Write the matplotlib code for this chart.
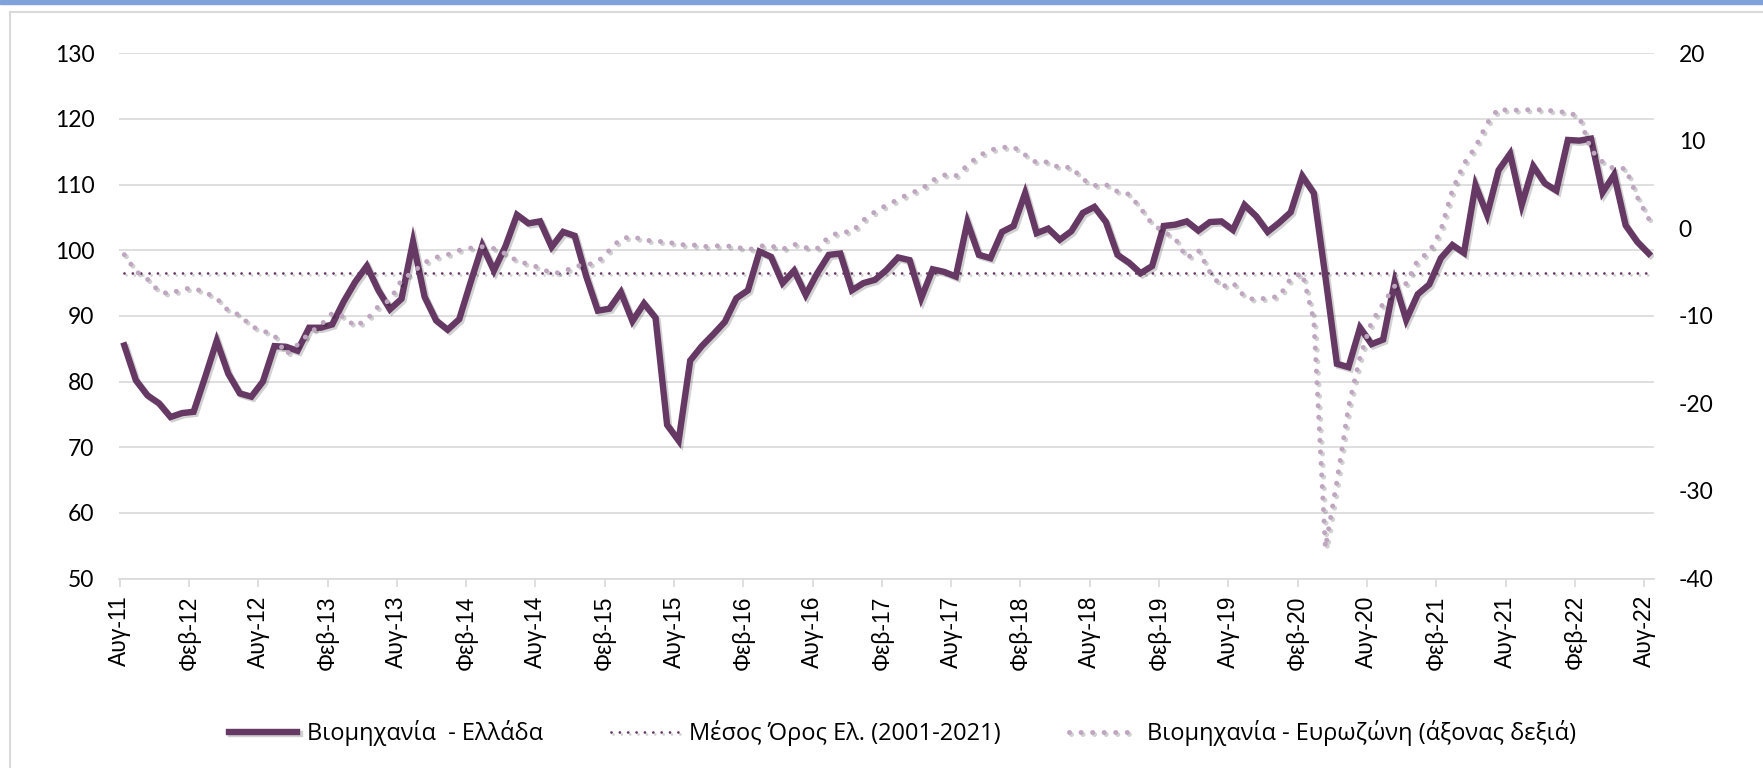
import matplotlib.pyplot as plt
import matplotlib.patheffects as pe
from matplotlib.lines import Line2D
from matplotlib.patches import Rectangle
import numpy as np

plt.rcParams['axes.unicode_minus'] = False

# monthly values, Aug-11 .. Aug-22
greece = [
    85.5, 80.2, 77.9, 76.7, 74.6, 75.2, 75.4, 80.7, 86.2, 81.2,
    78.2, 77.7, 80.0, 85.4, 85.3, 84.7, 88.2, 88.2, 88.7, 92.2,
    95.2, 97.6, 93.9, 91.0, 92.6, 101.3, 92.9, 89.3, 87.9, 89.5,
    95.2, 100.7, 96.9, 100.6, 105.4, 104.1, 104.4, 100.5, 102.8, 102.2,
    96.0, 90.8, 91.1, 93.6, 89.2, 91.9, 89.7, 73.4, 71.0, 83.2,
    85.4, 87.2, 89.1, 92.7, 93.9, 99.8, 99.0, 95.0, 96.9, 93.2,
    96.5, 99.3, 99.5, 93.9, 95.0, 95.5, 97.0, 98.9, 98.5, 92.7,
    97.1, 96.7, 96.0, 104.3, 99.3, 98.8, 102.8, 103.7, 108.7, 102.6,
    103.3, 101.6, 102.9, 105.7, 106.6, 104.3, 99.3, 98.1, 96.5, 97.6,
    103.7, 103.9, 104.4, 103.0, 104.3, 104.4, 103.1, 106.9, 105.2, 102.8,
    104.2, 105.8, 111.3, 108.7, 96.0, 82.7, 82.2, 88.2, 85.7, 86.4,
    95.2, 89.4, 93.3, 94.8, 98.8, 100.8, 99.6, 109.9, 105.4, 112.2,
    114.7, 106.9, 112.8, 110.2, 109.1, 116.8, 116.7, 117.0, 108.8, 111.5,
    103.8, 101.3, 99.5,
]

euro = [
    -3.0, -4.9, -5.8, -7.2, -7.5, -6.9, -6.85, -7.3, -8.0, -9.4,
    -9.9, -11.2, -11.7, -12.2, -14.4, -13.3, -12.0, -11.05, -9.7, -10.1,
    -11.2, -10.4, -8.9, -8.2, -5.9, -5.0, -3.9, -3.3, -3.0, -2.5,
    -2.25, -2.1, -2.3, -2.9, -3.7, -4.1, -4.5, -5.15, -5.0, -4.3,
    -4.2, -3.8, -2.5, -1.15, -0.96, -1.3, -1.5, -1.5, -1.9, -1.8,
    -2.1, -2.0, -2.0, -2.1, -2.5, -2.0, -2.0, -2.4, -1.8, -2.2,
    -2.3, -0.96, -0.4, -0.4, 0.95, 1.9, 2.66, 3.3, 4.0, 4.45,
    5.5, 6.1, 6.0, 7.2, 8.3, 8.95, 9.25, 9.3, 8.4, 7.5,
    7.6, 6.9, 7.0, 5.6, 4.9, 5.0, 4.2, 3.9, 2.3, 0.5,
    -0.4, -1.15, -3.4, -2.5, -5.0, -6.7, -6.2, -7.8, -8.2, -7.9,
    -7.8, -5.7, -5.1, -10.5, -36.5, -28.9, -20.4, -14.7, -10.7, -8.6,
    -6.6, -6.3, -3.6, -2.7, -0.2, 4.4, 7.4, 9.3, 12.0, 13.7,
    13.4, 13.6, 13.5, 13.6, 13.3, 13.3, 12.7, 8.95, 7.6, 6.8,
    6.85, 3.6, 1.1,
]

mean_gr = 96.6

tick_labels = ['Αυγ-11', 'Φεβ-12', 'Αυγ-12', 'Φεβ-13', 'Αυγ-13', 'Φεβ-14',
               'Αυγ-14', 'Φεβ-15', 'Αυγ-15', 'Φεβ-16', 'Αυγ-16', 'Φεβ-17',
               'Αυγ-17', 'Φεβ-18', 'Αυγ-18', 'Φεβ-19', 'Αυγ-19', 'Φεβ-20',
               'Αυγ-20', 'Φεβ-21', 'Αυγ-21', 'Φεβ-22', 'Αυγ-22']

labels = ['Βιομηχανία  - Ελλάδα', 'Μέσος Όρος Ελ. (2001-2021)',
          'Βιομηχανία - Ευρωζώνη (άξονας δεξιά)']

dark = '#653963'
light = '#BFA6C0'
grid = '#D9D9D9'
num_font = ['Lato', 'Open Sans', 'DejaVu Sans']
txt_font = ['Open Sans', 'DejaVu Sans']

x = np.arange(len(greece))
shadow = [pe.SimpleLineShadow(offset=(1.5, -1.5), shadow_color='k', alpha=0.18), pe.Normal()]

fig = plt.figure(figsize=(17.63, 7.68), dpi=100)
ax = fig.add_axes([0.0677, 0.2467, 0.8703, 0.6839])
ax2 = ax.twinx()

l1, = ax.plot(x, greece, color=dark, lw=4.6, solid_joinstyle='miter',
              path_effects=shadow, zorder=3)
l2, = ax.plot([x[0], x[-1]], [mean_gr, mean_gr], color=dark, lw=2.0,
              linestyle=(0, (0.01, 3.0)), dash_capstyle='round',
              path_effects=shadow, zorder=2)
l3, = ax2.plot(x, euro, color=light, lw=3.6, linestyle=(0, (0.01, 2.3)),
               dash_capstyle='round', path_effects=shadow, zorder=3)

ax.set_xlim(-0.43, 132.43)
ax.set_ylim(50, 130)
ax2.set_ylim(-40, 20)
ax.set_yticks(np.arange(50, 131, 10))
ax2.set_yticks(np.arange(-40, 21, 10))
ax.yaxis.grid(True, color=grid, lw=1.2)
ax.set_axisbelow(True)

for s in ['top', 'left', 'right']:
    ax.spines[s].set_visible(False)
for s in ax2.spines.values():
    s.set_visible(False)
ax.spines['bottom'].set_color(grid)
ax.spines['bottom'].set_linewidth(1.2)

ax.set_xticks(np.arange(0, len(greece), 6) - 0.4)
ax.set_xticklabels(tick_labels, rotation=90, family=['Liberation Sans', 'DejaVu Sans'],
                   fontsize=16.5)
ax.tick_params(axis='x', color=grid, width=1.2, length=6, pad=6)
ax.tick_params(axis='y', length=0, pad=18, labelsize=16.5)
ax2.tick_params(axis='y', length=0, pad=18, labelsize=16.5)
for t in ax.get_yticklabels() + ax2.get_yticklabels():
    t.set_family(num_font)

fig.legend([l1, l2, l3], labels, loc='center', bbox_to_anchor=(0.512, 0.0456),
           ncol=3, frameon=False, handlelength=2.9, handletextpad=0.4,
           columnspacing=2.9, prop={'family': txt_font, 'size': 17})

# frame around the chart
fig.patches.append(Rectangle((0, 1 - 4 / 768), 1, 4 / 768, transform=fig.transFigure,
                             color='#7FA2DC', zorder=0))
fig.add_artist(Line2D([10 / 1763, 10 / 1763], [0, 1 - 12 / 768], color=grid, lw=1.5))
fig.add_artist(Line2D([10 / 1763, 1], [1 - 12 / 768, 1 - 12 / 768], color=grid, lw=1.5))

fig.savefig('out.png', dpi=100)
